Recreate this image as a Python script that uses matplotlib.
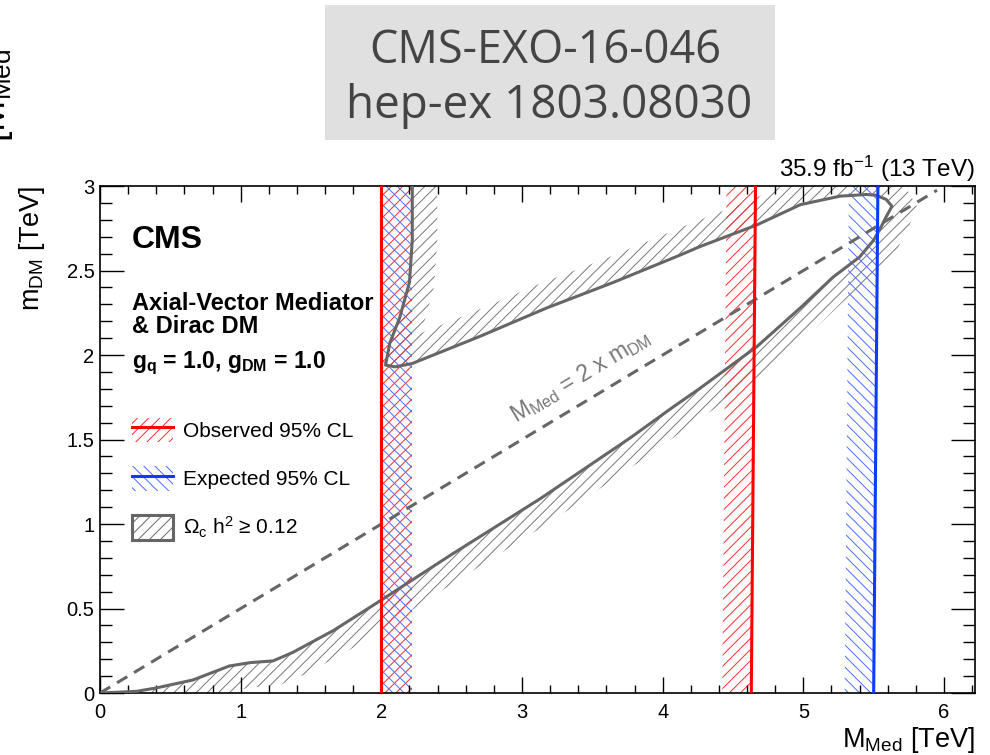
import numpy as np
import matplotlib.pyplot as plt
from matplotlib.patches import Patch, Polygon, Rectangle
from matplotlib.lines import Line2D
from matplotlib.legend_handler import HandlerTuple
from matplotlib.ticker import MultipleLocator, FormatStrFormatter

plt.rcParams['font.family'] = ['Liberation Sans', 'DejaVu Sans']
plt.rcParams['mathtext.fontset'] = 'custom'
plt.rcParams['mathtext.rm'] = 'Liberation Sans'
plt.rcParams['mathtext.it'] = 'Liberation Sans:italic'
plt.rcParams['mathtext.bf'] = 'Liberation Sans:bold'
plt.rcParams['mathtext.default'] = 'regular'
plt.rcParams['hatch.linewidth'] = 0.7

# relic density contour (Omega_c h^2 = 0.12)
relic_x = [0.0, 0.26, 0.40, 0.66, 0.92, 1.07, 1.23, 1.37, 1.66, 2.0, 2.5, 3.13,
           3.77, 4.07, 4.26, 4.67, 4.98, 5.21, 5.40, 5.50, 5.56, 5.59, 5.63, 5.59,
           5.52, 5.45, 5.26, 4.98, 4.67, 4.26, 4.12, 3.65, 3.18, 2.70, 2.22, 2.10,
           2.03, 2.06, 2.13, 2.20, 2.22, 2.22]
relic_y = [0.0, 0.01, 0.03, 0.077, 0.16, 0.18, 0.19, 0.24, 0.37, 0.55, 0.82, 1.15,
           1.51, 1.69, 1.80, 2.05, 2.28, 2.46, 2.58, 2.68, 2.77, 2.82, 2.88, 2.92,
           2.945, 2.95, 2.94, 2.89, 2.77, 2.64, 2.59, 2.43, 2.28, 2.11, 1.95, 1.93,
           1.94, 2.07, 2.22, 2.43, 2.68, 3.0]

# observed / expected 95% CL exclusion boundaries
obs_left_x = [2.0, 2.0]
obs_left_y = [0.0, 3.0]
obs_right_x = [4.66, 4.63]
obs_right_y = [3.0, 0.0]
exp_left_x = [2.0, 2.0]
exp_left_y = [0.0, 3.0]
exp_right_x = [5.53, 5.50]
exp_right_y = [3.0, 0.0]

# M_Med = 2 x m_DM
diag_x = np.array([0.0, 5.95])
diag_y = diag_x / 2

gray = '#666666'
red = '#ff0000'
blue = '#0a3cff'


def hatch_band(ax, xs, ys, width_px, color, hatch):
    # ROOT-style hatched band on the right-hand side of the curve direction
    pts = ax.transData.transform(np.column_stack([xs, ys]))
    d = np.gradient(pts, axis=0)
    d /= np.hypot(d[:, 0], d[:, 1])[:, None]
    normal = np.column_stack([d[:, 1], -d[:, 0]])
    off = pts + width_px * normal
    poly = ax.transData.inverted().transform(np.vstack([pts, off[::-1]]))
    ax.add_patch(Polygon(poly, closed=True, facecolor='none', edgecolor=color,
                         hatch=hatch, lw=0, zorder=1))


fig = plt.figure(figsize=(9.9, 7.55), dpi=100)
ax = fig.add_axes([0.101, 0.0821, 0.8838, 0.6715])
ax.set_xlim(0, 6.22)
ax.set_ylim(0, 3)

# hatched bands
hatch_band(ax, relic_x, relic_y, 25, '#777777', '///')
hatch_band(ax, obs_left_x, obs_left_y, 31, '#ff2a2a', '///')
hatch_band(ax, obs_right_x, obs_right_y, 29, '#ff2a2a', '///')
hatch_band(ax, exp_left_x, exp_left_y, 31, '#4a6cff', '\\\\\\')
hatch_band(ax, exp_right_x, exp_right_y, 29, '#4a6cff', '\\\\\\')

# lines
ax.plot(diag_x, diag_y, color=gray, lw=2.2, ls=(0, (3.9, 2.6)), zorder=2)
ax.plot(relic_x, relic_y, color=gray, lw=2.2, zorder=3)
ax.plot(exp_left_x, exp_left_y, color=blue, lw=2.2, zorder=4)
ax.plot(exp_right_x, exp_right_y, color=blue, lw=2.2, zorder=4)
ax.plot(obs_left_x, obs_left_y, color=red, lw=2.2, zorder=5)
ax.plot(obs_right_x, obs_right_y, color=red, lw=2.2, zorder=5)

ax.text(2.96, 1.60, 'M$_{Med}$ = 2 x m$_{DM}$', rotation=np.degrees(np.arctan(0.5)),
        transform_rotates_text=True, rotation_mode='anchor', ha='left', va='baseline',
        color='#777777', fontsize=16.5)

# axes styling
ax.xaxis.set_major_locator(MultipleLocator(1))
ax.xaxis.set_minor_locator(MultipleLocator(0.2))
ax.yaxis.set_major_locator(MultipleLocator(0.5))
ax.yaxis.set_minor_locator(MultipleLocator(0.1))
ax.xaxis.set_major_formatter(FormatStrFormatter('%g'))
ax.yaxis.set_major_formatter(FormatStrFormatter('%g'))
ax.tick_params(which='both', direction='in', top=True, right=True, width=1)
ax.tick_params(axis='x', which='major', length=11.5, labelsize=14.5, pad=7)
ax.tick_params(axis='x', which='minor', length=6)
ax.tick_params(axis='y', which='major', length=17, labelsize=14.5, pad=4)
ax.tick_params(axis='y', which='minor', length=8.5)
for sp in ax.spines.values():
    sp.set_linewidth(1.2)

ax.text(-0.078, 1.0, 'm$_{DM}$ [TeV]', rotation=90, ha='center', va='top',
        transform=ax.transAxes, fontsize=19.5)
ax.text(1.0, -0.063, 'M$_{Med}$ [TeV]', ha='right', va='top',
        transform=ax.transAxes, fontsize=19.5)
ax.text(1.0, 1.018, '35.9 fb$^{-1}$ (13 TeV)', ha='right', va='baseline',
        transform=ax.transAxes, fontsize=17.5)

# CMS labels
ax.text(0.0366, 0.878, 'CMS', fontsize=23, fontweight='bold', transform=ax.transAxes)
ax.text(0.0366, 0.755, 'Axial-Vector Mediator', fontsize=17, fontweight='bold',
        transform=ax.transAxes)
ax.text(0.0366, 0.710, '& Dirac DM', fontsize=17, fontweight='bold',
        transform=ax.transAxes)
ax.text(0.0366, 0.641, 'g$_{q}$ = 1.0, g$_{DM}$ = 1.0', fontsize=16.5, fontweight='bold',
        transform=ax.transAxes)

# legend
h_obs = (Patch(facecolor='none', edgecolor='#ff2a2a', hatch='///', lw=0),
         Line2D([], [], color=red, lw=2.2))
h_exp = (Patch(facecolor='none', edgecolor='#4a6cff', hatch='\\\\\\', lw=0),
         Line2D([], [], color=blue, lw=2.2))
h_relic = Patch(facecolor='white', edgecolor=gray, hatch='///', lw=2.2)
ax.legend([h_obs, h_exp, h_relic],
          ['Observed 95% CL', 'Expected 95% CL', '\u03a9$_{c}$ h$^{2}$ \u2265 0.12'],
          handler_map={tuple: HandlerTuple(ndivide=1)},
          loc='upper left', bbox_to_anchor=(0.0366, 0.543), frameon=False,
          fontsize=15, handlelength=1.97, handleheight=1.44, labelspacing=1.15,
          handletextpad=0.48, borderpad=0, borderaxespad=0)

# header box
fig.add_artist(Rectangle((325 / 990, 615 / 755), 450 / 990, 135 / 755,
                         transform=fig.transFigure, facecolor='#e0e0e0',
                         edgecolor='none'))
fig.text(0.551, 692 / 755, 'CMS-EXO-16-046', ha='center', va='baseline',
         fontsize=32.5, color='#444444', family='Open Sans')
fig.text(0.5545, 637 / 755, 'hep-ex 1803.08030', ha='center', va='baseline',
         fontsize=33, color='#444444', family='Open Sans')

# fragment of the neighbouring panel's axis title, cut at the left edge
fig.text(5 / 990, 613 / 755, '[M$_{Med}$', rotation=90, rotation_mode='anchor',
         ha='left', va='baseline', fontsize=27)

fig.savefig('out.png', dpi=100)
